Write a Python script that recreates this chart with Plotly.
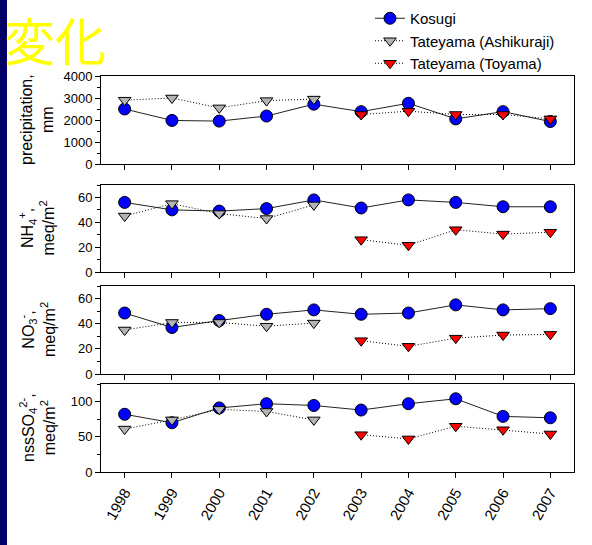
import plotly.graph_objects as go

years = [1998, 1999, 2000, 2001, 2002, 2003, 2004, 2005, 2006, 2007]
years_ashi = [1998, 1999, 2000, 2001, 2002]
years_toyama = [2003, 2004, 2005, 2006, 2007]

precip_kosugi = [2500, 1980, 1950, 2180, 2720, 2380, 2760, 2050, 2380, 1930]
precip_ashi = [2900, 3000, 2550, 2880, 2950]
precip_toyama = [2250, 2400, 2250, 2250, 2050]

nh4_kosugi = [56, 50, 49, 51, 58, 51.5, 58, 56, 52.5, 52.5]
nh4_ashi = [45, 55, 47, 43, 54]
nh4_toyama = [26, 21.5, 34, 30.5, 32]

no3_kosugi = [48.5, 37, 42.5, 47.5, 51, 47.5, 48.5, 55, 51, 52]
no3_ashi = [35, 41, 41, 38, 40.5]
no3_toyama = [26.5, 22, 28.5, 31, 31.5]

so4_kosugi = [82, 70, 91, 97, 94.5, 88, 97, 104, 79, 77]
so4_ashi = [61, 74, 89, 86, 74]
so4_toyama = [53, 47, 65, 60, 54]

panels = [
    (precip_kosugi, precip_ashi, precip_toyama),
    (nh4_kosugi, nh4_ashi, nh4_toyama),
    (no3_kosugi, no3_ashi, no3_toyama),
    (so4_kosugi, so4_ashi, so4_toyama),
]
y_titles = [
    "precipitation,<br>mm",
    "NH<sub>4</sub><sup>+</sup>,<br>meq/m<sup>2</sup>",
    "NO<sub>3</sub><sup>-</sup>,<br>meq/m<sup>2</sup>",
    "nssSO<sub>4</sub><sup>2-</sup>,<br>meq/m<sup>2</sup>",
]
y_ranges = [[0, 4000], [0, 70], [0, 70], [0, 125]]
y_dticks = [1000, 20, 20, 50]
y_minor = [500, 10, 10, 25]

# pixel layout
W, H = 592, 545
L, R, T, B = 101, 18, 76, 73
PW, PH = W - L - R, H - T - B
panel_px = [(76, 164), (185, 272), (286, 374), (384, 472)]

def py(y):
    return (H - B - y) / PH

def px(x):
    return (x - L) / PW

FONT = "Arial, Liberation Sans, sans-serif"

fig = go.Figure()
names = ["Kosugi", "Tateyama (Ashikuraji)", "Tateyama (Toyama)"]
for i, (k, a, t) in enumerate(panels):
    n = "" if i == 0 else str(i + 1)
    xa, ya = "x" + n, "y" + n
    fig.add_trace(go.Scatter(
        x=years, y=k, name=names[0], xaxis=xa, yaxis=ya, mode="lines+markers",
        line=dict(color="#222222", width=1),
        marker=dict(symbol="circle", size=12, color="#0000ff", line=dict(color="black", width=1)),
        showlegend=(i == 0)))
    fig.add_trace(go.Scatter(
        x=years_ashi, y=a, name=names[1], xaxis=xa, yaxis=ya, mode="lines+markers",
        line=dict(color="black", width=1, dash="1px,2px"),
        marker=dict(symbol="triangle-down", size=11, color="#b4b4b4", line=dict(color="black", width=1)),
        showlegend=(i == 0)))
    fig.add_trace(go.Scatter(
        x=years_toyama, y=t, name=names[2], xaxis=xa, yaxis=ya, mode="lines+markers",
        line=dict(color="black", width=1, dash="1px,2px"),
        marker=dict(symbol="triangle-down", size=11, color="#ff0000", line=dict(color="black", width=1)),
        showlegend=(i == 0)))

layout = dict(
    width=W, height=H,
    margin=dict(l=L, r=R, t=T, b=B, autoexpand=False),
    paper_bgcolor="white", plot_bgcolor="white",
    font=dict(family=FONT, color="black", size=13),
    legend=dict(x=px(370), y=py(2), xanchor="left", yanchor="top",
                font=dict(size=15, family=FONT), bgcolor="rgba(0,0,0,0)",
                tracegroupgap=0),
)
annotations = []
for i in range(4):
    n = "" if i == 0 else str(i + 1)
    top, bot = panel_px[i]
    layout["xaxis" + n] = dict(
        domain=[0, 1], anchor="y" + n, range=[1997.5, 2007.5],
        tickvals=years, ticktext=[str(y) for y in years],
        ticks="outside", ticklen=5, tickcolor="black",
        showticklabels=(i == 3), tickangle=-60, tickfont=dict(size=15),
        showline=True, linecolor="black", linewidth=1, mirror=True,
        showgrid=False, zeroline=False, fixedrange=True)
    layout["yaxis" + n] = dict(
        domain=[py(bot), py(top)], anchor="x" + n, range=y_ranges[i],
        dtick=y_dticks[i], tick0=0, ticks="outside", ticklen=5, tickcolor="black",
        minor=dict(dtick=y_minor[i], ticks="outside", ticklen=3, tickcolor="black"),
        showline=True, linecolor="black", linewidth=1, mirror=True,
        showgrid=False, zeroline=False, tickfont=dict(size=13))
    annotations.append(dict(
        text=y_titles[i], xref="paper", yref="paper",
        x=px(37), y=py((top + bot) / 2), xanchor="center", yanchor="middle",
        textangle=-90, showarrow=False, font=dict(size=16, family=FONT, color="black")))

annotations.append(dict(
    text="変化", xref="paper", yref="paper", x=px(2), y=py(39),
    xanchor="left", yanchor="middle", showarrow=False,
    font=dict(size=51, family="Noto Sans CJK JP", color="#ffff00")))
layout["annotations"] = annotations
layout["shapes"] = [dict(
    type="rect", xref="paper", yref="paper", layer="below",
    x0=px(-5), x1=px(7), y0=py(H + 5), y1=py(-5),
    fillcolor="#000066", line=dict(width=0))]

fig.update_layout(**layout)
fig.write_html(
    "out.html",
    config={"displayModeBar": False, "responsive": False},
    post_script="document.documentElement.style.margin='0';document.body.style.margin='0';"
                "document.body.style.overflow='hidden';document.documentElement.style.overflow='hidden';",
)
